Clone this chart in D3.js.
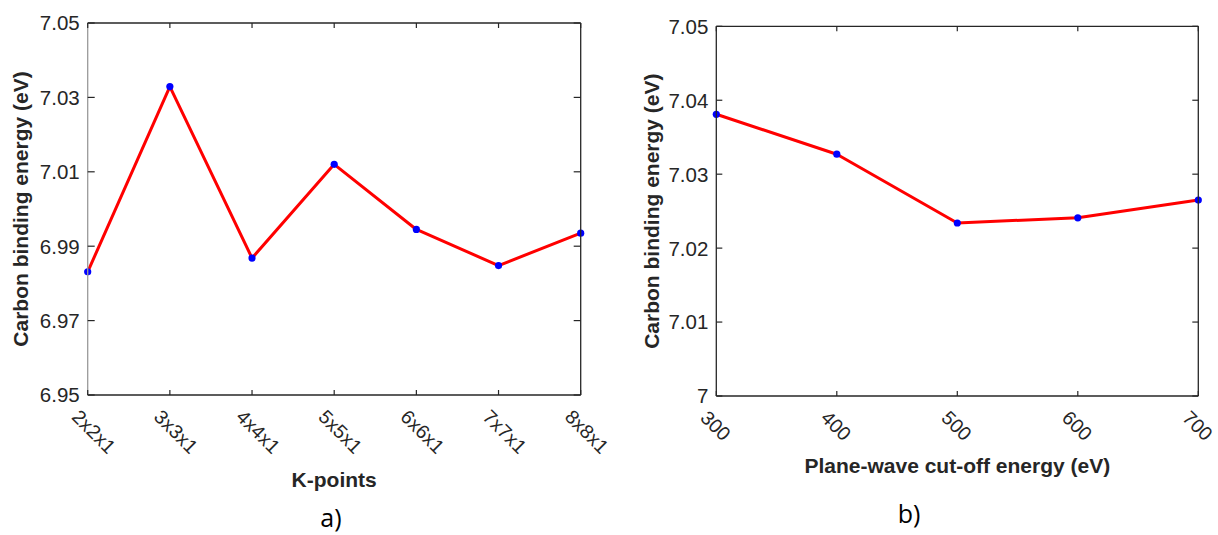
<!DOCTYPE html>
<html>
<head>
<meta charset="utf-8">
<script src="https://cdn.jsdelivr.net/npm/d3@7"></script>
<style>
  html, body { margin: 0; padding: 0; background: #fff; }
  svg { display: block; }
</style>
</head>
<body>
<svg id="chart" width="1218" height="535"></svg>
<script>
// ---- Data (panel a) ----
const kpoints = ["2x2x1", "3x3x1", "4x4x1", "5x5x1", "6x6x1", "7x7x1", "8x8x1"];
const kpointEnergy = [6.9831, 7.0329, 6.9868, 7.0120, 6.9945, 6.9848, 6.9935];
const kpointYTicks = [6.95, 6.97, 6.99, 7.01, 7.03, 7.05];

// ---- Data (panel b) ----
const cutoff = [300, 400, 500, 600, 700];
const cutoffEnergy = [7.0381, 7.0327, 7.0234, 7.0241, 7.0265];
const cutoffYTicks = [7.00, 7.01, 7.02, 7.03, 7.04, 7.05];
const cutoffXTicks = [300, 400, 500, 600, 700];

const svg = d3.select("#chart");
const axisColor = "#262626";
const tickFont = "Liberation Sans, Arial, sans-serif";

function panel(opts) {
  const { left, right, top, bottom, xScale, yScale, xTicks, xTickLabel, yTicks, yTickLabel,
          xs, ys, yLabel, yLabelX, xLabel, xLabelY, caption, captionX, captionY,
          yTickLen, xTickLen, leftSpineColor } = opts;
  const g = svg.append("g");

  // Plot line and markers
  const line = d3.line().x((d, i) => xScale(xs[i])).y(d => yScale(d));
  g.append("path").datum(ys)
    .attr("d", line)
    .attr("fill", "none")
    .attr("stroke", "#ff0000")
    .attr("stroke-width", 3)
    .attr("stroke-linejoin", "round");
  g.selectAll("circle.pt").data(ys).join("circle")
    .attr("class", "pt")
    .attr("cx", (d, i) => xScale(xs[i]))
    .attr("cy", d => yScale(d))
    .attr("r", 3.6)
    .attr("fill", "#0000ff");

  // Box
  g.append("line").attr("x1", left).attr("x2", right).attr("y1", top).attr("y2", top)
    .attr("stroke", axisColor).attr("stroke-width", 1.3);
  g.append("line").attr("x1", left).attr("x2", right).attr("y1", bottom).attr("y2", bottom)
    .attr("stroke", axisColor).attr("stroke-width", 1.3);
  g.append("line").attr("x1", right).attr("x2", right).attr("y1", top).attr("y2", bottom)
    .attr("stroke", axisColor).attr("stroke-width", 1.3);
  g.append("line").attr("x1", left).attr("x2", left).attr("y1", top).attr("y2", bottom)
    .attr("stroke", leftSpineColor).attr("stroke-width", 1.3);

  // Ticks (inward, mirrored)
  xTicks.forEach(t => {
    const x = xScale(t);
    g.append("line").attr("x1", x).attr("x2", x).attr("y1", bottom).attr("y2", bottom - xTickLen)
      .attr("stroke", axisColor).attr("stroke-width", 1.2);
    g.append("line").attr("x1", x).attr("x2", x).attr("y1", top).attr("y2", top + xTickLen)
      .attr("stroke", axisColor).attr("stroke-width", 1.2);
    g.append("text")
      .attr("transform", `translate(${x - 17},${bottom + 23}) rotate(45)`)
      .attr("font-family", tickFont)
      .attr("font-size", 19.5)
      .attr("fill", axisColor)
      .attr("text-anchor", "start")
      .text(xTickLabel(t));
  });
  yTicks.forEach(t => {
    const y = yScale(t);
    g.append("line").attr("x1", left).attr("x2", left + yTickLen).attr("y1", y).attr("y2", y)
      .attr("stroke", axisColor).attr("stroke-width", 1.2);
    g.append("line").attr("x1", right).attr("x2", right - yTickLen).attr("y1", y).attr("y2", y)
      .attr("stroke", axisColor).attr("stroke-width", 1.2);
    g.append("text")
      .attr("x", left - 8)
      .attr("y", y)
      .attr("dy", "0.36em")
      .attr("font-family", tickFont)
      .attr("font-size", 20.5)
      .attr("fill", axisColor)
      .attr("text-anchor", "end")
      .text(yTickLabel(t));
  });

  // Axis labels
  g.append("text")
    .attr("transform", `translate(${yLabelX},${(top + bottom) / 2}) rotate(-90)`)
    .attr("font-family", tickFont)
    .attr("font-weight", "bold")
    .attr("font-size", 21)
    .attr("fill", axisColor)
    .attr("text-anchor", "middle")
    .text(yLabel);
  g.append("text")
    .attr("x", (left + right) / 2)
    .attr("y", xLabelY)
    .attr("font-family", tickFont)
    .attr("font-weight", "bold")
    .attr("font-size", 21)
    .attr("fill", axisColor)
    .attr("text-anchor", "middle")
    .text(xLabel);

  // Caption
  g.append("text")
    .attr("x", captionX)
    .attr("y", captionY)
    .attr("font-family", "Open Sans, Lato, sans-serif")
    .attr("font-size", 25)
    .attr("fill", "#000")
    .attr("text-anchor", "middle")
    .text(caption);
}

// Panel a
{
  const left = 87.7, right = 580.7, top = 23, bottom = 395;
  const x = d3.scalePoint().domain(kpoints).range([left, right]);
  const y = d3.scaleLinear().domain([6.95, 7.05]).range([bottom, top]);
  panel({
    left, right, top, bottom,
    xScale: x, yScale: y,
    xTicks: kpoints, xTickLabel: d => d,
    yTicks: kpointYTicks, yTickLabel: d => d3.format(".2f")(d),
    xs: kpoints, ys: kpointEnergy,
    yLabel: "Carbon binding energy (eV)", yLabelX: 28,
    xLabel: "K-points", xLabelY: 487,
    caption: "a)", captionX: 331, captionY: 527,
    yTickLen: 7, xTickLen: 5, leftSpineColor: "#9a9a9a"
  });
}

// Panel b
{
  const left = 716.3, right = 1198.3, top = 26.3, bottom = 396;
  const x = d3.scaleLinear().domain([300, 700]).range([left, right]);
  const y = d3.scaleLinear().domain([7.00, 7.05]).range([bottom, top]);
  panel({
    left, right, top, bottom,
    xScale: x, yScale: y,
    xTicks: cutoffXTicks, xTickLabel: d => String(d),
    yTicks: cutoffYTicks, yTickLabel: d => (d === 7 ? "7" : d3.format(".2f")(d)),
    xs: cutoff, ys: cutoffEnergy,
    yLabel: "Carbon binding energy (eV)", yLabelX: 659,
    xLabel: "Plane-wave cut-off energy (eV)", xLabelY: 473,
    caption: "b)", captionX: 909, captionY: 523,
    yTickLen: 6, xTickLen: 5, leftSpineColor: axisColor
  });
}
</script>
</body>
</html>
